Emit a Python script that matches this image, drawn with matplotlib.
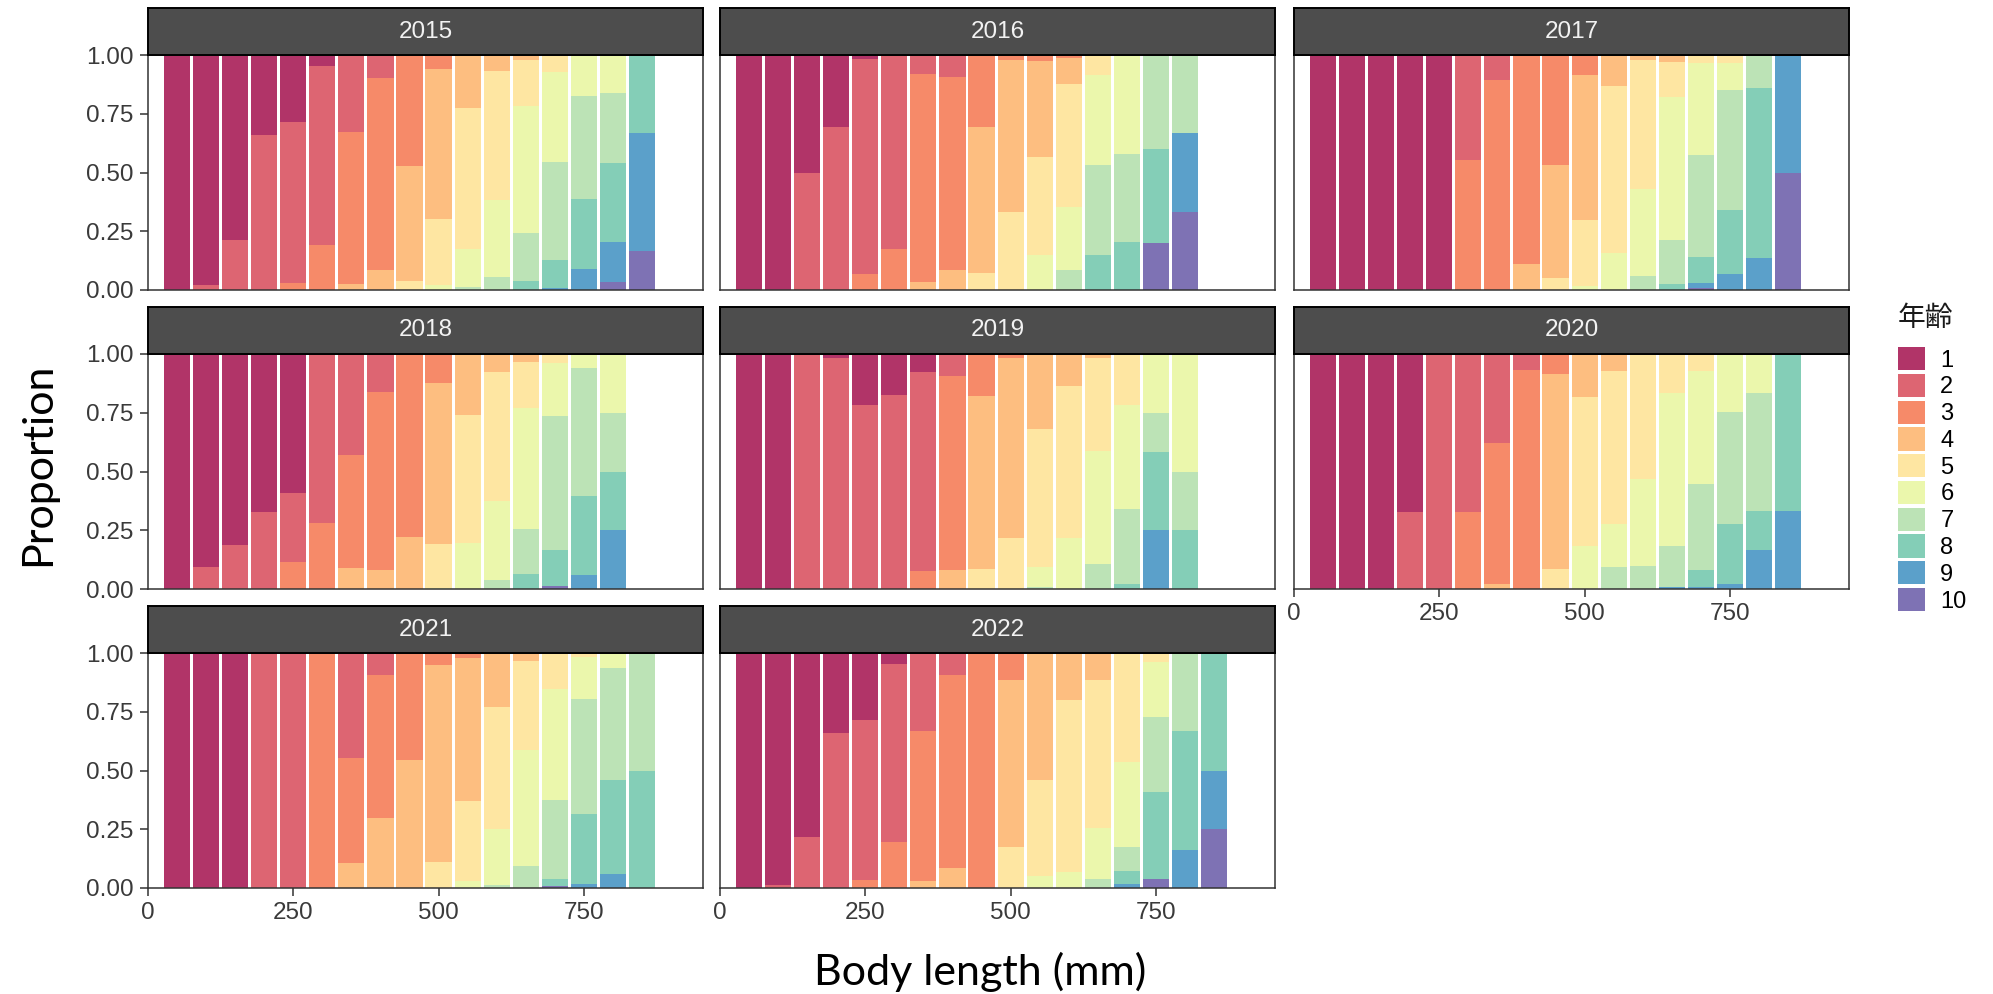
import matplotlib
matplotlib.use("Agg")
import matplotlib.pyplot as plt
from matplotlib.patches import Patch

plt.rcParams['font.family'] = ['Liberation Sans', 'Noto Sans CJK JP', 'DejaVu Sans']

# body length bins (mm, bin centres) and ages
bins = [50, 100, 150, 200, 250, 300, 350, 400, 450, 500, 550, 600, 650, 700, 750, 800, 850]
ages = [1, 2, 3, 4, 5, 6, 7, 8, 9, 10]
years = [2015, 2016, 2017, 2018, 2019, 2020, 2021, 2022]

# proportion of each age inside each length bin
p2015 = [
    {1: 1.0}, {1: .98, 2: .02}, {1: .786, 2: .214}, {1: .34, 2: .66},
    {1: .284, 2: .685, 3: .031}, {1: .046, 2: .761, 3: .193},
    {2: .329, 3: .645, 4: .026}, {2: .096, 3: .821, 4: .083},
    {3: .471, 4: .489, 5: .04}, {3: .06, 4: .636, 5: .283, 6: .021},
    {4: .226, 5: .6, 6: .163, 7: .011}, {4: .069, 5: .55, 6: .327, 7: .054},
    {4: .02, 5: .197, 6: .542, 7: .202, 8: .039},
    {5: .071, 6: .383, 7: .419, 8: .118, 9: .009},
    {6: .174, 7: .44, 8: .296, 9: .09},
    {6: .163, 7: .297, 8: .337, 9: .17, 10: .033},
    {8: .333, 9: .5, 10: .167},
]
p2016 = [
    {1: 1.0}, {1: 1.0}, {1: .5, 2: .5}, {1: .305, 2: .695},
    {1: .017, 2: .917, 3: .066}, {2: .827, 3: .173},
    {2: .079, 3: .885, 4: .036}, {2: .095, 3: .822, 4: .083},
    {3: .305, 4: .623, 5: .072}, {3: .023, 4: .646, 5: .331},
    {3: .026, 4: .41, 5: .414, 6: .15}, {3: .011, 4: .114, 5: .52, 6: .268, 7: .087},
    {5: .087, 6: .381, 7: .381, 8: .15}, {6: .42, 7: .375, 8: .205},
    {7: .4, 8: .4, 10: .2}, {7: .333, 9: .333, 10: .334},
]
p2017 = [
    {1: 1.0}, {1: 1.0}, {1: 1.0}, {1: 1.0}, {1: 1.0},
    {2: .446, 3: .554}, {2: .105, 3: .895}, {3: .888, 4: .112},
    {3: .47, 4: .48, 5: .05}, {3: .086, 4: .614, 5: .281, 6: .019},
    {4: .13, 5: .714, 6: .156}, {4: .021, 5: .548, 6: .372, 7: .059},
    {4: .029, 5: .149, 6: .61, 7: .186, 8: .026},
    {5: .032, 6: .394, 7: .435, 8: .11, 9: .02, 10: .009},
    {5: .032, 6: .116, 7: .511, 8: .272, 9: .069},
    {7: .139, 8: .725, 9: .136}, {9: .5, 10: .5},
]
p2018 = [
    {1: 1.0}, {1: .906, 2: .094}, {1: .814, 2: .186}, {1: .673, 2: .327},
    {1: .592, 2: .294, 3: .114}, {2: .719, 3: .281},
    {2: .431, 3: .48, 4: .089}, {2: .16, 3: .761, 4: .079},
    {3: .778, 4: .222}, {3: .125, 4: .682, 5: .19, 6: .003},
    {4: .258, 5: .545, 6: .197}, {4: .075, 5: .549, 6: .337, 7: .039},
    {4: .033, 5: .198, 6: .515, 7: .192, 8: .062},
    {5: .04, 6: .225, 7: .571, 8: .15, 10: .014},
    {6: .061, 7: .544, 8: .334, 9: .061}, {6: .25, 7: .25, 8: .25, 9: .25},
]
p2019 = [
    {1: 1.0}, {1: 1.0}, {2: 1.0}, {1: .016, 2: .984},
    {1: .219, 2: .781}, {1: .174, 2: .826},
    {1: .075, 2: .847, 3: .078}, {2: .094, 3: .824, 4: .082},
    {3: .177, 4: .739, 5: .084}, {3: .019, 4: .766, 5: .215},
    {4: .321, 5: .584, 6: .088, 7: .007}, {4: .135, 5: .646, 6: .219},
    {4: .017, 5: .394, 6: .481, 7: .108}, {5: .215, 6: .446, 7: .317, 8: .022},
    {6: .25, 7: .167, 8: .333, 9: .25}, {6: .5, 7: .25, 8: .25},
]
p2020 = [
    {1: 1.0}, {1: 1.0}, {1: 1.0}, {1: .672, 2: .328},
    {2: 1.0}, {2: .672, 3: .328}, {2: .38, 3: .598, 4: .022}, {2: .07, 3: .93},
    {3: .085, 4: .829, 5: .086}, {4: .183, 5: .633, 6: .184},
    {4: .073, 5: .652, 6: .181, 7: .094}, {5: .532, 6: .372, 7: .096},
    {5: .167, 6: .649, 7: .175, 9: .009},
    {5: .071, 6: .483, 7: .365, 8: .072, 9: .009},
    {6: .248, 7: .477, 8: .252, 9: .023},
    {6: .167, 7: .5, 8: .167, 9: .166}, {8: .667, 9: .333},
]
p2021 = [
    {1: 1.0}, {1: 1.0}, {1: 1.0}, {2: 1.0}, {2: 1.0}, {3: 1.0},
    {2: .446, 3: .447, 4: .107}, {2: .095, 3: .607, 4: .298},
    {3: .457, 4: .543}, {3: .053, 4: .835, 5: .112},
    {3: .023, 4: .607, 5: .34, 6: .03}, {4: .229, 5: .522, 6: .236, 7: .013},
    {4: .033, 5: .381, 6: .491, 7: .095},
    {5: .152, 6: .473, 7: .338, 8: .03, 10: .007},
    {5: .019, 6: .176, 7: .488, 8: .3, 9: .017},
    {6: .063, 7: .476, 8: .402, 9: .059}, {7: .5, 8: .5},
]
p2022 = [
    {1: 1.0}, {1: .989, 2: .011}, {1: .785, 2: .215}, {1: .341, 2: .659},
    {1: .285, 2: .683, 3: .032}, {1: .046, 2: .758, 3: .196},
    {2: .332, 3: .639, 4: .029}, {2: .095, 3: .822, 4: .083},
    {3: 1.0}, {3: .115, 4: .71, 5: .175},
    {4: .539, 5: .409, 6: .052}, {4: .202, 5: .728, 6: .07},
    {4: .113, 5: .632, 6: .216, 7: .039},
    {5: .463, 6: .362, 7: .102, 8: .056, 9: .017},
    {5: .04, 6: .232, 7: .32, 8: .368, 10: .04},
    {7: .334, 8: .504, 9: .162}, {8: .5, 9: .25, 10: .25},
]
props = [p2015, p2016, p2017, p2018, p2019, p2020, p2021, p2022]

# Spectral (10), drawn with alpha 0.8 like the original
spectral = ['#9E0142', '#D53E4F', '#F46D43', '#FDAE61', '#FEE08B',
            '#E6F598', '#ABDDA4', '#66C2A5', '#3288BD', '#5E4FA2']
alpha = 0.8

W, H = 1993, 994
fig = plt.figure(figsize=(W / 100, H / 100), dpi=100)

col_left = [148, 720, 1294]
row_top = [55, 354, 653]
pw, ph = 555, 235
strip_h = 47


def px_axes(left, top, w, h):
    return fig.add_axes([left / W, 1 - (top + h) / H, w / W, h / H])


for i, (yr, pr) in enumerate(zip(years, props)):
    r, c = divmod(i, 3)
    ax = px_axes(col_left[c], row_top[r], pw, ph)
    for x, d in zip(bins, pr):
        tot = sum(d.values())
        bottom = 0.0
        # age 1 ends up on top (ggplot position = "fill" order)
        for a in reversed(ages):
            v = d.get(a, 0) / tot
            if v > 0:
                ax.bar(x, v, bottom=bottom, width=45, color=spectral[a - 1],
                       alpha=alpha, linewidth=0)
                bottom += v
    ax.set_xlim(0, 955)
    ax.set_ylim(0, 1)
    for s in ax.spines.values():
        s.set_color('#333333')
        s.set_linewidth(1.1)
    ax.tick_params(direction='out', length=5.8, width=1.1, color='#333333', pad=4.5,
                   labelsize=17.5, labelcolor='#3A3A3A')
    ax.set_xticks([0, 250, 500, 750])
    ax.set_yticks([0, 0.25, 0.5, 0.75, 1.0])
    ax.set_yticklabels(['0.00', '0.25', '0.50', '0.75', '1.00'])
    if c != 0:
        ax.tick_params(axis='y', left=False, labelleft=False)
    last_in_col = (i + 3) >= len(years)
    if not last_in_col:
        ax.tick_params(axis='x', bottom=False, labelbottom=False)

    sax = px_axes(col_left[c], row_top[r] - strip_h, pw, strip_h)
    sax.set_facecolor('#4D4D4D')
    sax.set_xticks([])
    sax.set_yticks([])
    for s in sax.spines.values():
        s.set_color('black')
        s.set_linewidth(1.4)
    sax.text(0.5, 0.5, str(yr), ha='center', va='center', color='#F2F2F2',
             fontsize=17.5, transform=sax.transAxes)

handles = [Patch(facecolor=col, alpha=alpha, edgecolor='none') for col in spectral]
fig.legend(handles, [str(a) for a in ages],
           loc='upper left', bbox_to_anchor=(1898 / W, 1 - 347 / H),
           frameon=False, fontsize=17, borderpad=0, borderaxespad=0,
           handlelength=1.14, handleheight=1.14, labelspacing=0.09,
           handletextpad=0.65)
fig.text(1898 / W, 1 - 318 / H, '年齢', ha='left', va='center', fontsize=20,
         family=['Noto Sans CJK JP', 'DejaVu Sans'], color='#1A1A1A')

fig.text(980 / W, 1 - 972 / H, 'Body length (mm)', ha='center', va='center',
         fontsize=31, family='Lato')
fig.text(38 / W, 1 - 464 / H, 'Proportion', ha='center', va='center',
         rotation=90, fontsize=31, family='Lato')

fig.savefig('out.png', dpi=100)
